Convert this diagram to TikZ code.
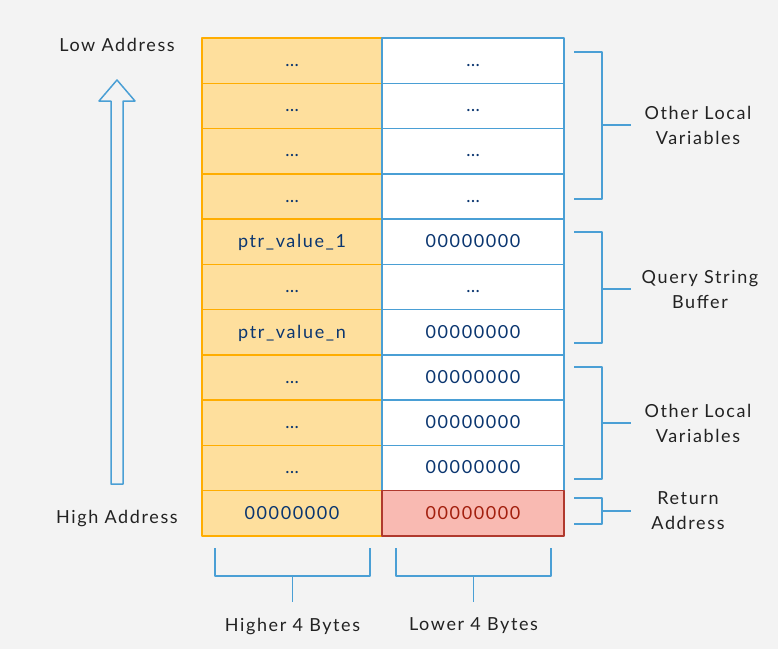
\documentclass[tikz,border=0pt]{standalone}
\usepackage{fontspec}
\setmainfont{Lato}[LetterSpace=9]
\usetikzlibrary{positioning}
\definecolor{bgray}{HTML}{F3F3F3}
\definecolor{hifill}{HTML}{FEDF9D}
\definecolor{hiline}{HTML}{FFAD00}
\definecolor{loline}{HTML}{4A9FD5}
\definecolor{retfill}{HTML}{F9BAB2}
\definecolor{retline}{HTML}{B0392E}
\definecolor{rettext}{HTML}{A3200F}
\definecolor{celltext}{HTML}{0B3670}
\definecolor{lbltext}{HTML}{222222}
\begin{document}
\begin{tikzpicture}[x=1pt, y=-1pt, line join=round]
	\tikzset{cellbox/.style={draw, line width=1.5pt, minimum height=45.27pt, inner sep=0pt,
			text height=11.6pt, text depth=0pt, font=\fontsize{18}{20}\selectfont, text=celltext},
		hicell/.style={cellbox, fill=hifill, draw=hiline, minimum width=180pt},
		locell/.style={cellbox, fill=white, draw=loline, minimum width=182pt},
		retcell/.style={locell, fill=retfill, draw=retline, text=rettext},
		bracket/.style={draw=loline, line width=1.5pt},
		lbl/.style={font=\fontsize{18}{25}\selectfont, text=lbltext, align=center}
	}
	\fill[bgray] (0,0) rectangle (778,649);
	\useasboundingbox (0,0) rectangle (778,649);
	% memory cells
	\foreach \i/\t in {0/…,1/…,2/…,3/…,4/ptr\_value\_1,5/…,6/ptr\_value\_n,7/…,8/…,9/…,10/00000000}
		\node[hicell] (h\i) at (292,{38+45.27*(\i+0.5)}) {\t};
	\foreach \i/\t in {0/…,1/…,2/…,3/…,4/00000000,5/…,6/00000000,7/00000000,8/00000000,9/00000000}
		\node[locell] (l\i) at (473,{38+45.27*(\i+0.5)}) {\t};
	\node[retcell] (l10) at (473,{38+45.27*10.5}) {00000000};
	% growth arrow
	\node[lbl] (low) at (117,45) {Low Address};
	\node[lbl] (high) at (117,518) {High Address};
	\draw[loline, line width=1.5pt] (111,484) -- (111,101) -- (99,101) -- (117,80)
		-- (135,101) -- (123,101) -- (123,484) -- cycle;
	% groups on the right
	\foreach \a/\b/\m/\txt/\lx/\n in {52/199/125/Other Local\\Variables/698/grpa,
			232/343/289/Query String\\Buffer/700/grpb,
			367/479/423/Other Local\\Variables/698/grpc,
			498/524/511/Return\\Address/688/grpd} {
		\draw[bracket] (574,\a) -- (602,\a) -- (602,\b) -- (574,\b);
		\draw[bracket] (602,\m) -- (631,\m);
		\node[lbl] (\n) at (\lx,\m) {\txt};
	}
	% byte halves
	\foreach \a/\b/\m/\txt/\n in {215/370/292.5/Higher 4 Bytes/hib, 396/551/473.5/Lower 4 Bytes/lob} {
		\draw[bracket] (\a,548) -- (\a,576) -- (\b,576) -- (\b,548);
		\draw[bracket] (\m,576) -- (\m,602);
		\node[lbl] (\n) at (\m,626) {\txt};
	}
\end{tikzpicture}
\end{document}
